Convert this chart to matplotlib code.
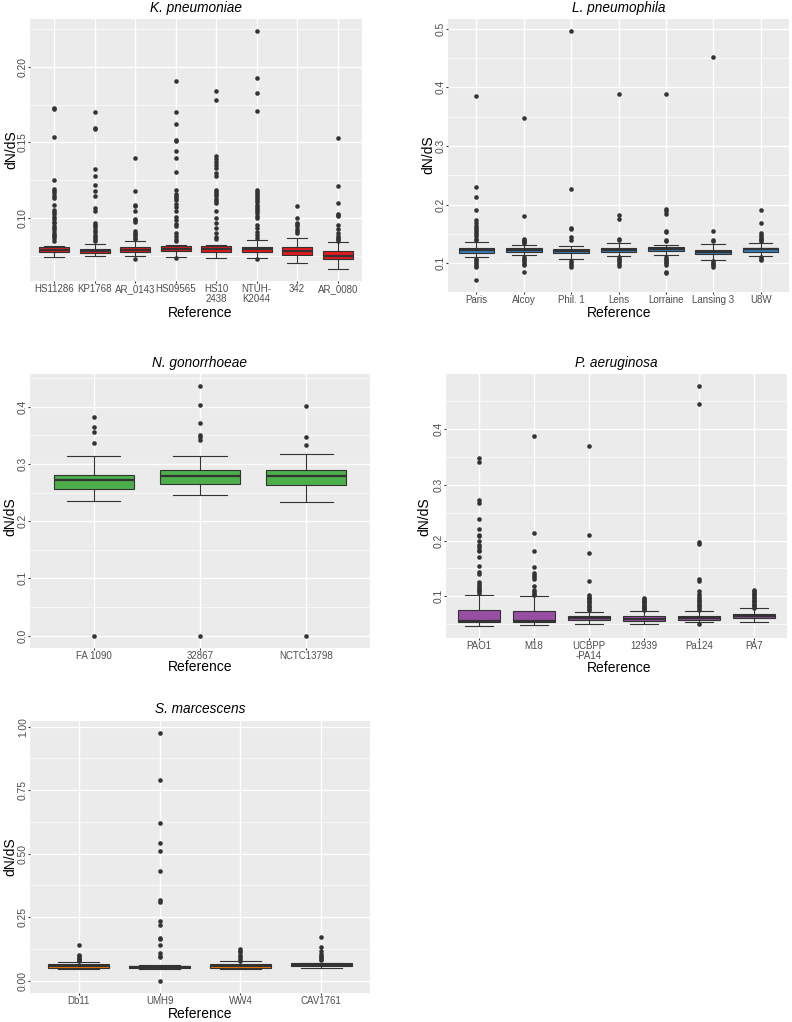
import matplotlib
matplotlib.use("Agg")
import matplotlib.pyplot as plt
from matplotlib.ticker import MultipleLocator, FormatStrFormatter

plt.rcParams['font.family'] = ['Liberation Sans', 'DejaVu Sans']

W, H = 792, 1022

# ---------------- K. pneumoniae ----------------
kp_refs = ["HS11286", "KP1768", "AR_0143", "HS09565", "HS10\n2438", "NTUH-\nK2044", "342", "AR_0080"]
kp_lo  = [0.0738, 0.0747, 0.0745, 0.0742, 0.0734, 0.0732, 0.0701, 0.0661]
kp_q1  = [0.0775, 0.0767, 0.0771, 0.0780, 0.0775, 0.0773, 0.0756, 0.0727]
kp_med = [0.0789, 0.0780, 0.0789, 0.0795, 0.0793, 0.0791, 0.0778, 0.0749]
kp_q3  = [0.0804, 0.0793, 0.0806, 0.0811, 0.0813, 0.0808, 0.0804, 0.0780]
kp_hi  = [0.0813, 0.0826, 0.0846, 0.0820, 0.0820, 0.0851, 0.0866, 0.0841]
kp_out = [
    [0.1729, 0.1718, 0.1535, 0.1249, 0.1194, 0.1178, 0.1167, 0.1145, 0.1130, 0.1086, 0.1051, 0.1036,
     0.1025, 0.1003, 0.0991, 0.0976, 0.0963, 0.0947, 0.0934, 0.0918, 0.0903, 0.0890, 0.0881, 0.0866, 0.0850],
    [0.1703, 0.1594, 0.1586, 0.1324, 0.1275, 0.1221, 0.1181, 0.1143, 0.1064, 0.1046, 0.0965, 0.0952,
     0.0940, 0.0921, 0.0905, 0.0890, 0.0875, 0.0860, 0.0848],
    [0.1399, 0.1176, 0.1086, 0.1077, 0.1044, 0.0993, 0.0987, 0.0970, 0.0912, 0.0903, 0.0893, 0.0882,
     0.0870, 0.0860, 0.0727],
    [0.1909, 0.1703, 0.1624, 0.1513, 0.1506, 0.1442, 0.1394, 0.1302, 0.1187, 0.1160, 0.1145, 0.1130,
     0.1117, 0.1095, 0.1069, 0.1046, 0.1007, 0.0985, 0.0959, 0.0948, 0.0903, 0.0880, 0.0862, 0.0850, 0.0734],
    [0.1837, 0.1782, 0.1410, 0.1392, 0.1373, 0.1351, 0.1333, 0.1300, 0.1278, 0.1187, 0.1172, 0.1157,
     0.1143, 0.1128, 0.1113, 0.1097, 0.1046, 0.0996, 0.0965, 0.0932, 0.0900, 0.0875, 0.0862],
    [0.2238, 0.1929, 0.1824, 0.1711, 0.1187, 0.1172, 0.1160, 0.1145, 0.1130, 0.1117, 0.1102, 0.1087,
     0.1073, 0.1058, 0.1044, 0.1030, 0.1015, 0.1000, 0.0952, 0.0930, 0.0905, 0.0885, 0.0870, 0.0725],
    [0.1082, 0.0996, 0.0969, 0.0959, 0.0947, 0.0925, 0.0910, 0.0900],
    [0.1531, 0.1211, 0.1097, 0.1029, 0.1020, 0.1012, 0.0952, 0.0925, 0.0903, 0.0880, 0.0868, 0.0858, 0.0848],
]

# ---------------- L. pneumophila ----------------
lp_refs = ["Paris", "Alcoy", "Phil. 1", "Lens", "Lorraine", "Lansing 3", "U8W"]
lp_lo  = [0.1102, 0.1142, 0.1068, 0.1131, 0.1142, 0.1057, 0.1131]
lp_q1  = [0.1182, 0.1199, 0.1170, 0.1193, 0.1210, 0.1153, 0.1199]
lp_med = [0.1222, 0.1227, 0.1216, 0.1233, 0.1250, 0.1193, 0.1239]
lp_q3  = [0.1261, 0.1256, 0.1250, 0.1261, 0.1273, 0.1233, 0.1267]
lp_hi  = [0.1364, 0.1313, 0.1301, 0.1341, 0.1318, 0.1330, 0.1341]
lp_out = [
    [0.3860, 0.2307, 0.2125, 0.1915, 0.1733, 0.1690, 0.1640, 0.1600, 0.1574, 0.1540, 0.1500, 0.1460,
     0.1420, 0.1390, 0.1080, 0.1050, 0.1020, 0.0990, 0.0960, 0.0935, 0.0722],
    [0.3477, 0.1813, 0.1420, 0.1400, 0.1380, 0.1360, 0.1340, 0.1110, 0.1080, 0.1050, 0.1020, 0.0990,
     0.0975, 0.0847],
    [0.4955, 0.2267, 0.1608, 0.1590, 0.1450, 0.1400, 0.1040, 0.1000, 0.0965, 0.0938],
    [0.3890, 0.1825, 0.1760, 0.1420, 0.1390, 0.1110, 0.1080, 0.1050, 0.1020, 0.0990, 0.0960],
    [0.3880, 0.1920, 0.1890, 0.1840, 0.1550, 0.1530, 0.1400, 0.1380, 0.1110, 0.1080, 0.1050, 0.1020,
     0.1000, 0.0970, 0.0847, 0.0830],
    [0.4523, 0.1550, 0.1400, 0.1380, 0.1040, 0.1010, 0.0990, 0.0965, 0.0945],
    [0.1903, 0.1682, 0.1520, 0.1480, 0.1450, 0.1420, 0.1400, 0.1380, 0.1100, 0.1075, 0.1055],
]

# ---------------- N. gonorrhoeae ----------------
ng_refs = ["FA 1090", "32867", "NCTC13798"]
ng_lo  = [0.2345, 0.2462, 0.2333]
ng_q1  = [0.2567, 0.2655, 0.2632]
ng_med = [0.2719, 0.2795, 0.2789]
ng_q3  = [0.2807, 0.2895, 0.2895]
ng_hi  = [0.3146, 0.3140, 0.3175]
ng_out = [
    [0.3825, 0.3655, 0.3567, 0.3374, 0.0],
    [0.4357, 0.4035, 0.3719, 0.3503, 0.3474, 0.3427, 0.0],
    [0.4012, 0.3468, 0.3333, 0.0],
]

# ---------------- P. aeruginosa ----------------
pa_refs = ["PAO1", "M18", "UCBPP\n-PA14", "12939", "Pa124", "PA7"]
pa_lo  = [0.0464, 0.0476, 0.0500, 0.0500, 0.0530, 0.0542]
pa_q1  = [0.0542, 0.0542, 0.0572, 0.0560, 0.0578, 0.0602]
pa_med = [0.0560, 0.0560, 0.0602, 0.0596, 0.0608, 0.0651]
pa_q3  = [0.0747, 0.0735, 0.0639, 0.0645, 0.0645, 0.0681]
pa_hi  = [0.1018, 0.1000, 0.0717, 0.0741, 0.0729, 0.0783]
pa_out = [
    [0.3482, 0.3404, 0.2735, 0.2669, 0.2386, 0.2211, 0.2102, 0.2078, 0.2000, 0.1916, 0.1880, 0.1837,
     0.1807, 0.1711, 0.1536, 0.1428, 0.1398, 0.1259, 0.1217, 0.1175, 0.1145, 0.1114, 0.1084, 0.1055],
    [0.3886, 0.2139, 0.1819, 0.1524, 0.1416, 0.1386, 0.1343, 0.1307, 0.1187, 0.1102, 0.1072, 0.1042, 0.1025],
    [0.3699, 0.2102, 0.1771, 0.1277, 0.1018, 0.0994, 0.0970, 0.0950, 0.0920, 0.0890, 0.0860, 0.0830,
     0.0800, 0.0775, 0.0750],
    [0.0970, 0.0950, 0.0930, 0.0910, 0.0890, 0.0870, 0.0850, 0.0830, 0.0810, 0.0790, 0.0770, 0.0755],
    [0.4777, 0.4458, 0.1970, 0.1940, 0.1307, 0.1277, 0.1096, 0.1042, 0.1000, 0.0970, 0.0940, 0.0910,
     0.0880, 0.0850, 0.0820, 0.0790, 0.0760, 0.0494],
    [0.1114, 0.1090, 0.1065, 0.1040, 0.1015, 0.0990, 0.0965, 0.0940, 0.0915, 0.0890, 0.0865, 0.0840,
     0.0815, 0.0795],
]

# ---------------- S. marcescens ----------------
sm_refs = ["Db11", "UMH9", "WW4", "CAV1761"]
sm_lo  = [0.0444, 0.0470, 0.0470, 0.0510]
sm_q1  = [0.0510, 0.0497, 0.0510, 0.0588]
sm_med = [0.0575, 0.0549, 0.0575, 0.0627]
sm_q3  = [0.0640, 0.0588, 0.0640, 0.0680]
sm_hi  = [0.0745, 0.0600, 0.0758, 0.0690]
sm_out = [
    [0.1386, 0.1007, 0.0960, 0.0910, 0.0860, 0.0820, 0.0785],
    [0.9739, 0.7908, 0.6196, 0.5438, 0.5111, 0.4301, 0.3176, 0.3098, 0.2340, 0.2209, 0.1673, 0.1621,
     0.1412, 0.1072, 0.0980, 0.0941, 0.0],
    [0.1242, 0.1176, 0.1110, 0.1020, 0.0915, 0.0850, 0.0784],
    [0.1725, 0.1333, 0.1150, 0.1045, 0.0980, 0.0915, 0.0870, 0.0820],
]

DARK = '#333333'


def px_rect(l, t, r, b):
    return [l / W, 1 - b / H, (r - l) / W, (b - t) / H]


def panel(fig, rect, refs, lo, q1, med, q3, hi, out, color, major, fmt,
          title, title_xy, ylab_xy, xlab_xy):
    ax = fig.add_axes(px_rect(*rect))
    ax.set_facecolor('#EBEBEB')
    for s in ax.spines.values():
        s.set_visible(False)

    stats = []
    for i in range(len(refs)):
        stats.append(dict(whislo=lo[i], q1=q1[i], med=med[i], q3=q3[i], whishi=hi[i], fliers=out[i]))
    pos = list(range(1, len(refs) + 1))
    ax.bxp(stats, positions=pos, widths=0.75, capwidths=0.5, patch_artist=True, showfliers=True,
           boxprops=dict(facecolor=color, edgecolor=DARK, linewidth=0.8),
           medianprops=dict(color=DARK, linewidth=1.6),
           whiskerprops=dict(color=DARK, linewidth=0.8),
           capprops=dict(color=DARK, linewidth=0.8),
           flierprops=dict(marker='o', markerfacecolor=DARK, markeredgecolor='none', markersize=3.3))

    # ggplot-like limits: 5% expansion of the data range
    allv = lo + hi + [v for o in out for v in o]
    vmin, vmax = min(allv), max(allv)
    pad = 0.05 * (vmax - vmin)
    ax.set_ylim(vmin - pad, vmax + pad)
    ax.set_xlim(0.4, len(refs) + 0.6)

    ax.set_xticks(pos)
    ax.set_xticklabels(refs)
    ax.yaxis.set_major_locator(MultipleLocator(major))
    ax.yaxis.set_minor_locator(MultipleLocator(major / 2))
    ax.yaxis.set_major_formatter(FormatStrFormatter(fmt))

    ax.set_axisbelow(True)
    ax.grid(which='major', color='white', linewidth=1.0)
    ax.grid(which='minor', axis='y', color='white', linewidth=0.5)
    ax.tick_params(which='major', length=1.6, width=0.8, color=DARK, labelcolor='#4D4D4D')
    ax.tick_params(which='minor', length=0)
    ax.tick_params(axis='x', labelsize=7.0, pad=0.6)
    ax.tick_params(axis='y', labelsize=7.4, pad=0.0)
    for lab in ax.get_yticklabels():
        lab.set_rotation(90)
        lab.set_va('center')
    for lab in ax.get_xticklabels():
        lab.set_linespacing(1.0)

    fig.text(title_xy[0] / W, 1 - title_xy[1] / H, title, style='italic', fontsize=9.8,
             ha='center', va='center')
    fig.text(ylab_xy[0] / W, 1 - ylab_xy[1] / H, 'dN/dS', rotation=90, fontsize=10,
             ha='center', va='center')
    fig.text(xlab_xy[0] / W, 1 - xlab_xy[1] / H, 'Reference', fontsize=10,
             ha='center', va='center')
    return ax


fig = plt.figure(figsize=(W / 100, H / 100), dpi=100)
fig.patch.set_facecolor('white')

panel(fig, (30, 19, 362, 281), kp_refs, kp_lo, kp_q1, kp_med, kp_q3, kp_hi, kp_out,
      '#E41A1C', 0.05, '%.2f', 'K. pneumoniae', (196, 8), (11, 150), (200, 313))
panel(fig, (448, 19, 789, 292), lp_refs, lp_lo, lp_q1, lp_med, lp_q3, lp_hi, lp_out,
      '#377EB8', 0.1, '%.1f', 'L. pneumophila', (619, 8), (428, 155), (619, 313))
panel(fig, (30, 374, 370, 648), ng_refs, ng_lo, ng_q1, ng_med, ng_q3, ng_hi, ng_out,
      '#4DAF4A', 0.1, '%.1f', 'N. gonorrhoeae', (200, 363), (10, 517), (200, 667))
panel(fig, (446, 374, 787, 638), pa_refs, pa_lo, pa_q1, pa_med, pa_q3, pa_hi, pa_out,
      '#984EA3', 0.1, '%.1f', 'P. aeruginosa', (616, 363), (424, 517), (619, 668))
panel(fig, (30, 721, 370, 993), sm_refs, sm_lo, sm_q1, sm_med, sm_q3, sm_hi, sm_out,
      '#FF7F00', 0.25, '%.2f', 'S. marcescens', (200, 709), (10, 857), (200, 1014))

fig.savefig('out.png', dpi=100)
